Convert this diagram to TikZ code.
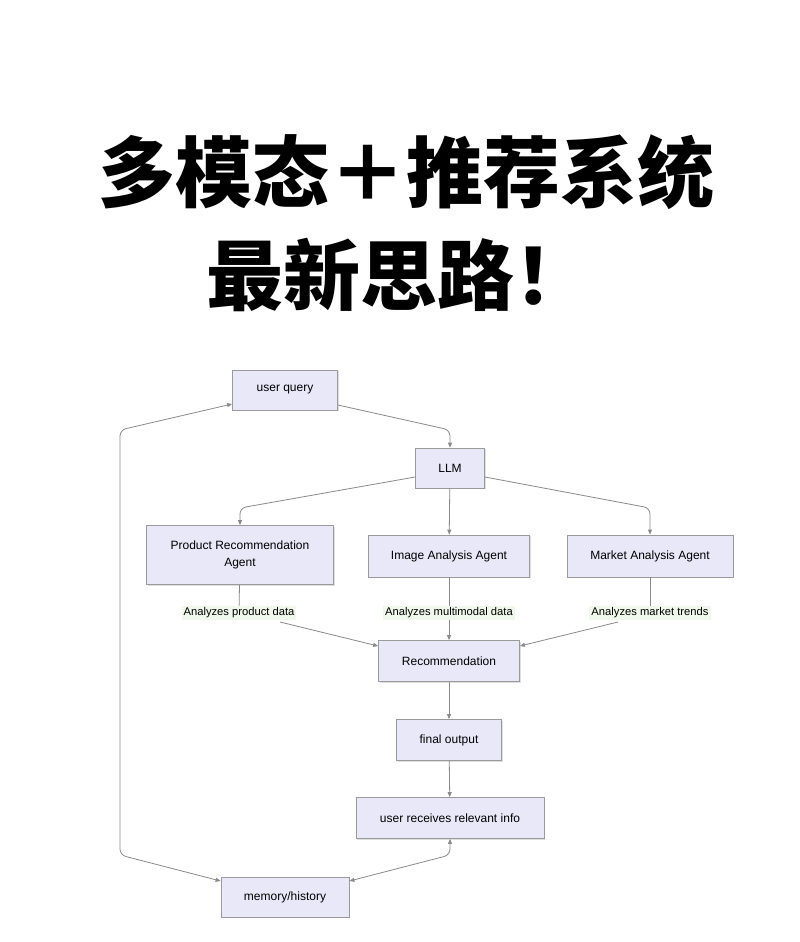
\documentclass[tikz,border=0pt]{standalone}
\usepackage{fontspec}
\setmainfont{Liberation Sans}
\newfontfamily\cjk{Noto Sans CJK SC}
\usetikzlibrary{arrows.meta,shadows}
\definecolor{boxfill}{HTML}{E8E8F8}
\definecolor{boxline}{HTML}{9A9A9A}
\definecolor{edge}{HTML}{8A8A8A}
\definecolor{lblfill}{HTML}{F0F8EC}
\begin{document}
\begin{tikzpicture}[x=1pt,y=-1pt,
  box/.style={draw=boxline,fill=boxfill,line width=0.8pt,font=\fontsize{12}{15}\selectfont,align=center,inner sep=0pt,
    drop shadow={shadow xshift=1pt,shadow yshift=-1pt,opacity=0.25}},
  lbl/.style={fill=lblfill,font=\fontsize{11.2}{13}\selectfont,inner sep=2pt},
  arr/.style={draw=edge,line width=0.8pt,-{Triangle[length=5pt,width=4pt]},rounded corners=6pt},
  ln/.style={draw=edge,line width=0.8pt}]
\useasboundingbox (0,0) rectangle (800,942);
\fill[white] (0,0) rectangle (800,942);
\node[font=\cjk\bfseries\fontsize{77}{82}\selectfont] (t1) at (406,172) {多模态＋推荐系统};
\node[font=\cjk\bfseries\fontsize{77}{82}\selectfont,anchor=west] (t2) at (203,275) {最新思路！};

\node[box,minimum width=105,minimum height=40] (uq) at (285,390) {user query};
\node[box,minimum width=69,minimum height=40] (llm) at (450,468) {LLM};
\node[box,minimum width=187,minimum height=59] (pra) at (240,555) {Product Recommendation\\[2pt]Agent};
\node[box,minimum width=161,minimum height=42] (iaa) at (449,556) {Image Analysis Agent};
\node[box,minimum width=166,minimum height=42] (maa) at (650,556) {Market Analysis Agent};
\node[lbl] (l1) at (239,613) {Analyzes product data};
\node[lbl] (l2) at (449,613) {Analyzes multimodal data};
\node[lbl] (l3) at (650,613) {Analyzes market trends};
\node[box,minimum width=141,minimum height=41] (rec) at (449,661) {Recommendation};
\node[box,minimum width=105,minimum height=41] (fo) at (449,740) {final output};
\node[box,minimum width=188,minimum height=41] (ur) at (450,818) {user receives relevant info};
\node[box,minimum width=128,minimum height=40] (mem) at (285,897) {memory/history};

\coordinate (a1) at (450,430);
\draw[arr] (uq.east|-0,405) -- (a1) -- (llm.north);
\draw[arr] (llm.west|-0,477) -- (240,508) -- (pra.north);
\draw[arr] (llm) -- (iaa);
\draw[arr] (llm.east|-0,477) -- (650,508) -- (maa.north);
\draw[ln] (pra) -- (l1);
\draw[ln] (iaa) -- (l2);
\draw[ln] (maa) -- (l3);
\draw[arr] (280,622) -- (rec.west|-0,646);
\draw[arr] (l2) -- (rec);
\draw[arr] (618,622) -- (rec.east|-0,646);
\draw[arr] (rec) -- (fo);
\draw[arr] (fo) -- (ur);
\draw[arr,{Triangle[length=5pt,width=4pt]}-{Triangle[length=5pt,width=4pt]}] (mem.west|-0,881) -- (120,855) -- (120,430) -- (uq.west|-0,404);
\draw[arr,{Triangle[length=5pt,width=4pt]}-{Triangle[length=5pt,width=4pt]}] (mem.east|-0,881) -- (450,855) -- (ur.south);
\end{tikzpicture}
\end{document}
